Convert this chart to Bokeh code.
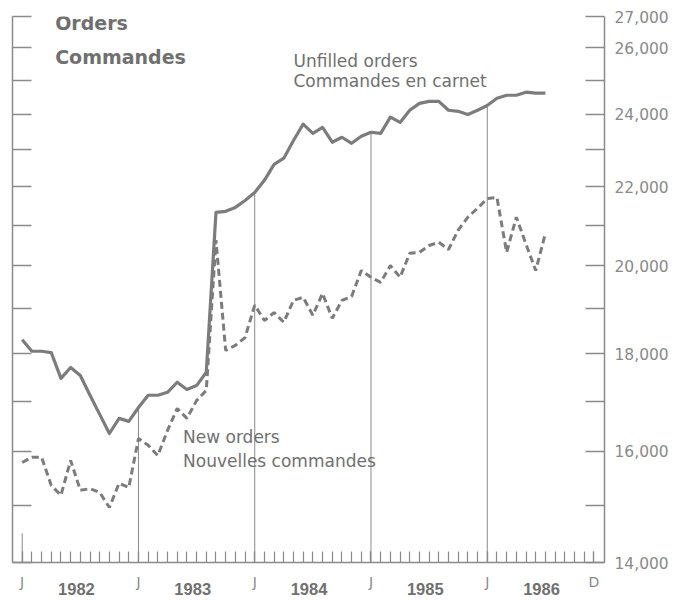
from bokeh.plotting import figure
from bokeh.models import (Range1d, LogAxis, LinearAxis, FixedTicker, Label,
                          NumeralTickFormatter)
from bokeh.embed import file_html
from bokeh.resources import INLINE

# Months since January 1982 (0 = Jan 1982 ... 54 = Jul 1986)
months = list(range(55))

unfilled_orders = [18300, 18050, 18050, 18020, 17470, 17700, 17530, 17120, 16730, 16350,
                   16650, 16590, 16870, 17120, 17120, 17180, 17390, 17240, 17320, 17600,
                   21330, 21360, 21460, 21640, 21850, 22170, 22600, 22770, 23260, 23720,
                   23460, 23630, 23210, 23350, 23180, 23380, 23490, 23460, 23920, 23770,
                   24120, 24320, 24380, 24380, 24120, 24090, 24000, 24120, 24260, 24470,
                   24560, 24560, 24650, 24620, 24620]

new_orders = [15790, 15890, 15890, 15360, 15180, 15830, 15270, 15300, 15230, 14960,
              15400, 15320, 16250, 16120, 15920, 16410, 16850, 16650, 17010, 17220,
              20630, 18070, 18180, 18350, 19080, 18730, 18910, 18690, 19190, 19260,
              18850, 19350, 18780, 19190, 19280, 19890, 19730, 19610, 20010, 19730,
              20310, 20330, 20500, 20580, 20400, 20880, 21210, 21440, 21690, 21720,
              20330, 21210, 20530, 19890, 20800]

all_months = list(range(60))          # monthly ticks Jan 1982 .. Dec 1986
x_tick_pos = [0, 12, 24, 36, 48, 59]
x_tick_text = ["J", "J", "J", "J", "J", "D"]
year_labels = ["1982", "1983", "1984", "1985", "1986"]
year_mid = [5.6, 17.6, 29.6, 41.6, 53.6]

y_ticks = list(range(14000, 27001, 1000))
y_labelled = [14000, 16000, 18000, 20000, 22000, 24000, 26000, 27000]

# year separators: January of each year, up to the unfilled-orders line
sep_x = [0, 12, 24, 36, 48]
sep_top = [14500] + [unfilled_orders[i] for i in sep_x[1:]]

GREY = "#7c7c7c"
TEXT = "#707070"
AXIS = "#8a8a8a"

p = figure(width=684, height=598,
           x_range=Range1d(-1, 60.1), y_range=Range1d(14000, 27000),
           y_axis_type="log", y_axis_location="right",
           output_backend="svg", toolbar_location=None,
           min_border_left=12, min_border_right=80,
           min_border_top=16, min_border_bottom=36)
p.outline_line_color = None
p.xgrid.visible = False
p.ygrid.visible = False
p.background_fill_color = "white"
p.border_fill_color = "white"

# right axis
ra = p.yaxis[0]
ra.ticker = FixedTicker(ticks=y_ticks, minor_ticks=[])
ra.formatter = NumeralTickFormatter(format="0,0")
ra.major_label_overrides = {v: "" for v in y_ticks if v not in y_labelled}
ra.major_tick_in = 19
ra.major_tick_out = 0
ra.minor_tick_in = 0
ra.minor_tick_out = 0
ra.axis_line_color = AXIS
ra.axis_line_width = 1.5
ra.major_tick_line_color = AXIS
ra.major_tick_line_width = 1.5
ra.major_label_standoff = 10
ra.major_label_text_font = "DejaVu Sans"
ra.major_label_text_font_size = "15.5px"
ra.major_label_text_color = "#8a8a8a"

# left axis (ticks only)
la = LogAxis(ticker=FixedTicker(ticks=y_ticks, minor_ticks=[]),
             major_label_overrides={v: "" for v in y_ticks},
             major_tick_in=19, major_tick_out=0, minor_tick_in=0, minor_tick_out=0,
             major_label_standoff=0,
             axis_line_color=AXIS, axis_line_width=1.5,
             major_tick_line_color=AXIS, major_tick_line_width=1.5)
p.add_layout(la, "left")

# bottom axis: monthly ticks, J / D labels
xa = p.xaxis[0]
xa.ticker = FixedTicker(ticks=x_tick_pos, minor_ticks=all_months)
xa.major_label_overrides = dict(zip(x_tick_pos, x_tick_text))
xa.major_tick_in = 11
xa.major_tick_out = 0
xa.minor_tick_in = 11
xa.minor_tick_out = 0
xa.axis_line_color = AXIS
xa.axis_line_width = 1.5
xa.major_tick_line_color = AXIS
xa.minor_tick_line_color = AXIS
xa.major_tick_line_width = 1.2
xa.minor_tick_line_width = 1.2
xa.major_label_standoff = 11
xa.major_label_text_font = "DejaVu Sans"
xa.major_label_text_font_size = "14px"
xa.major_label_text_color = "#8a8a8a"

# second bottom axis: year labels
ya = LinearAxis(ticker=FixedTicker(ticks=year_mid, minor_ticks=[]),
                major_label_overrides=dict(zip(year_mid, year_labels)),
                major_tick_in=0, major_tick_out=0, minor_tick_in=0, minor_tick_out=0,
                axis_line_color=None, major_tick_line_color=None,
                major_label_standoff=-10,
                major_label_text_font="Liberation Sans",
                major_label_text_font_style="bold",
                major_label_text_font_size="16.5px",
                major_label_text_color=TEXT)
p.add_layout(ya, "below")

# year separator lines
p.segment(x0=sep_x, y0=[14000] * len(sep_x), x1=sep_x, y1=sep_top,
          line_color="#8a8a8a", line_width=1)

# series
p.line(months, unfilled_orders, line_color=GREY, line_width=3.2, line_join="round")
p.line(months, new_orders, line_color=GREY, line_width=3, line_dash="7 4")

def lab(x, y, t, size, bold=False):
    p.add_layout(Label(x=x, y=y, text=t, text_font="DejaVu Sans",
                       text_font_style="bold" if bold else "normal",
                       text_font_size=size, text_color=TEXT,
                       text_baseline="middle", text_align="left"))

lab(3.4, 26800, "Orders", "19px", True)
lab(3.4, 25720, "Commandes", "19px", True)
lab(28.0, 25580, "Unfilled orders", "17px")
lab(28.0, 24990, "Commandes en carnet", "17px")
lab(16.6, 16290, "New orders", "17px")
lab(16.6, 15810, "Nouvelles commandes", "17px")

open("out.html", "w").write(file_html(p, INLINE))
